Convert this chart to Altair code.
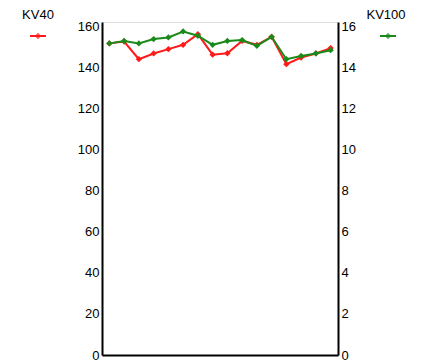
import altair as alt
import pandas as pd

# Sample index and measured viscosities
samples = list(range(1, 17))
kv40 = [151.6, 152.5, 143.9, 146.7, 148.8, 150.9, 156.1, 146.1,
        146.8, 152.8, 150.9, 154.8, 141.5, 144.7, 146.7, 149.3]
kv100 = [15.16, 15.28, 15.16, 15.37, 15.45, 15.74, 15.53, 15.09,
         15.28, 15.32, 15.04, 15.48, 14.39, 14.55, 14.67, 14.83]

left_ticks = [0, 20, 40, 60, 80, 100, 120, 140, 160]
right_ticks = [0, 2, 4, 6, 8, 10, 12, 14, 16]

df = pd.DataFrame({"sample": samples, "KV40": kv40, "KV100": kv100})

FONT = "Liberation Sans"
FSIZE = 13
RED = "#ff1a1a"
GREEN = "#1a8a1a"

x_enc = alt.X(
    "sample:Q",
    scale=alt.Scale(domain=[0.5, 16.5], nice=False, zero=False),
    axis=alt.Axis(labels=False, ticks=False, grid=False, title=None,
                  domainColor="black", domainWidth=2),
)

red_line = alt.Chart(df).mark_line(
    color=RED, strokeWidth=2,
    point=alt.OverlayMarkDef(shape="diamond", size=40, color=RED, filled=True),
).encode(
    x=x_enc,
    y=alt.Y("KV40:Q",
            scale=alt.Scale(domain=[0, 162], nice=False),
            axis=alt.Axis(values=left_ticks, orient="left", title=None, grid=False,
                          ticks=False, labelPadding=3, labelFont=FONT, labelFontSize=FSIZE,
                          labelColor="black", domainColor="black", domainWidth=2)),
)

green_line = alt.Chart(df).mark_line(
    color=GREEN, strokeWidth=2,
    point=alt.OverlayMarkDef(shape="diamond", size=40, color=GREEN, filled=True),
).encode(
    x=x_enc,
    y=alt.Y("KV100:Q",
            scale=alt.Scale(domain=[0, 16.2], nice=False),
            axis=alt.Axis(values=right_ticks, orient="right", title=None, grid=False,
                          ticks=False, labelPadding=3, labelFont=FONT, labelFontSize=FSIZE,
                          labelColor="black", domainColor="black", domainWidth=2)),
)

# Series keys drawn above each axis
legend_df = pd.DataFrame({"name": ["KV40"]})
legend_df2 = pd.DataFrame({"name": ["KV100"]})

key40_text = alt.Chart(legend_df).mark_text(
    font=FONT, fontSize=FSIZE, color="black", align="center", baseline="middle"
).encode(text="name:N", x=alt.value(-64), y=alt.value(-7))
key40_mark = alt.Chart(legend_df).mark_point(
    shape="diamond", size=40, color=RED, filled=True
).encode(x=alt.value(-64), y=alt.value(14))
key40_rule = alt.Chart(legend_df).mark_rule(color=RED, strokeWidth=2).encode(
    x=alt.value(-72), x2=alt.value(-56), y=alt.value(14))

key100_text = alt.Chart(legend_df2).mark_text(
    font=FONT, fontSize=FSIZE, color="black", align="center", baseline="middle"
).encode(text="name:N", x=alt.value(284), y=alt.value(-7))
key100_mark = alt.Chart(legend_df2).mark_point(
    shape="diamond", size=40, color=GREEN, filled=True
).encode(x=alt.value(286), y=alt.value(14))
key100_rule = alt.Chart(legend_df2).mark_rule(color=GREEN, strokeWidth=2).encode(
    x=alt.value(278), x2=alt.value(294), y=alt.value(14))

chart = alt.layer(
    red_line, green_line,
    key40_rule, key40_mark, key40_text,
    key100_rule, key100_mark, key100_text,
).resolve_scale(y="independent").properties(
    width=236, height=333,
    autosize="none",
    padding={"left": 102, "top": 22, "right": 83, "bottom": 8},
).configure_view(stroke=None).configure(background="white")

chart.save("out.html", embed_options={"renderer": "svg", "actions": False})
